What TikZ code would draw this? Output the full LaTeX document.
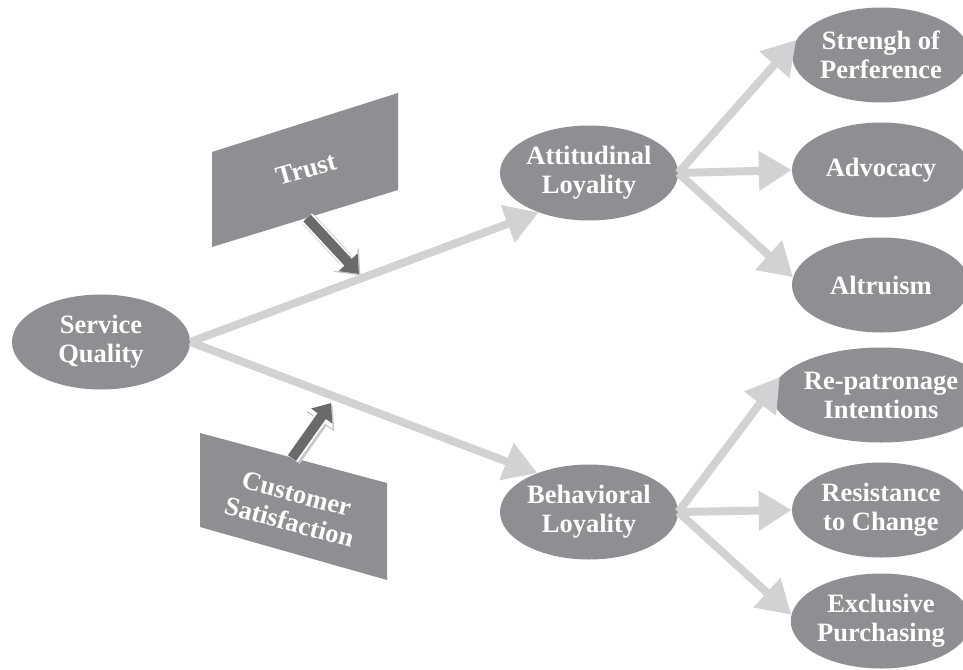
\documentclass[tikz,border=0pt]{standalone}
\usepackage{fontspec}
\setmainfont{Liberation Serif}
\usepackage{tikz}
\usetikzlibrary{shapes.geometric,arrows.meta}
\definecolor{ovalgray}{RGB}{142,143,146}
\definecolor{linegray}{RGB}{209,210,212}
\definecolor{pointgray}{RGB}{105,106,108}

\begin{document}
\begin{tikzpicture}[x=1pt,y=-1pt,
  oval/.style={ellipse,fill=ovalgray,text=white,minimum width=178pt,minimum height=95pt,inner sep=0pt,align=center,font=\fontsize{26.5}{29}\selectfont\bfseries},
  tag/.style={text=white,align=center,font=\fontsize{26.5}{29}\selectfont\bfseries},
  link/.style={draw=linegray,line width=8pt,-{Triangle[width=38pt,length=33pt]}},
  pointer/.style={draw=pointgray,line width=10pt,-{Triangle[width=25pt,length=16pt]},
    preaction={draw=black!22,line width=15pt,-{Triangle[width=33pt,length=21pt]},transform canvas={shift={(1.5pt,-1.5pt)}}},
    preaction={draw=white,line width=13.5pt,-{Triangle[width=31pt,length=20pt]}}}]
\useasboundingbox (0,0) rectangle (963,669);

\node[oval] (sq) at (101,342) {Service\\Quality};
\node[oval] (att) at (589,173) {Attitudinal\\Loyality};
\node[oval] (beh) at (589,512) {Behavioral\\Loyality};

\node[oval] (str) at (881,55) {Strengh of\\Perference};
\node[oval] (adv) at (881,170) {Advocacy};
\node[oval] (alt) at (881,285) {Altruism};
\node[oval] (rep) at (881,395) {Re-patronage\\Intentions};
\node[oval] (res) at (881,510) {Resistance\\to Change};
\node[oval] (exc) at (881,621) {Exclusive\\Purchasing};

\draw[link] (sq.east) -- (att.218);
\draw[link] (sq.east) -- (beh.143);

\draw[link] (att.east) -- (str.170);
\draw[link] (att.east) -- (adv.west);
\draw[link] (att.east) -- (alt.175);
\draw[link] (beh.east) -- (rep.170);
\draw[link] (beh.east) -- (res.west);
\draw[link] (beh.east) -- (exc.176);

\fill[ovalgray] (212,152) -- (398,93) -- (398,190) -- (212,247) -- cycle;
\node[tag,rotate=16] (trust) at (306,169) {Trust};
\coordinate (tbot) at (307,218);
\coordinate (ttip) at (359,274);
\draw[pointer] (tbot) -- (ttip);

\fill[ovalgray] (200,433) -- (387,483) -- (387,580) -- (200,527) -- cycle;
\node[tag,rotate=-15] (cs) at (293,508) {Customer\\Satisfaction};
\coordinate (cstop) at (292,458);
\coordinate (ctip) at (331,403);
\draw[pointer] (cstop) -- (ctip);

\end{tikzpicture}
\end{document}
